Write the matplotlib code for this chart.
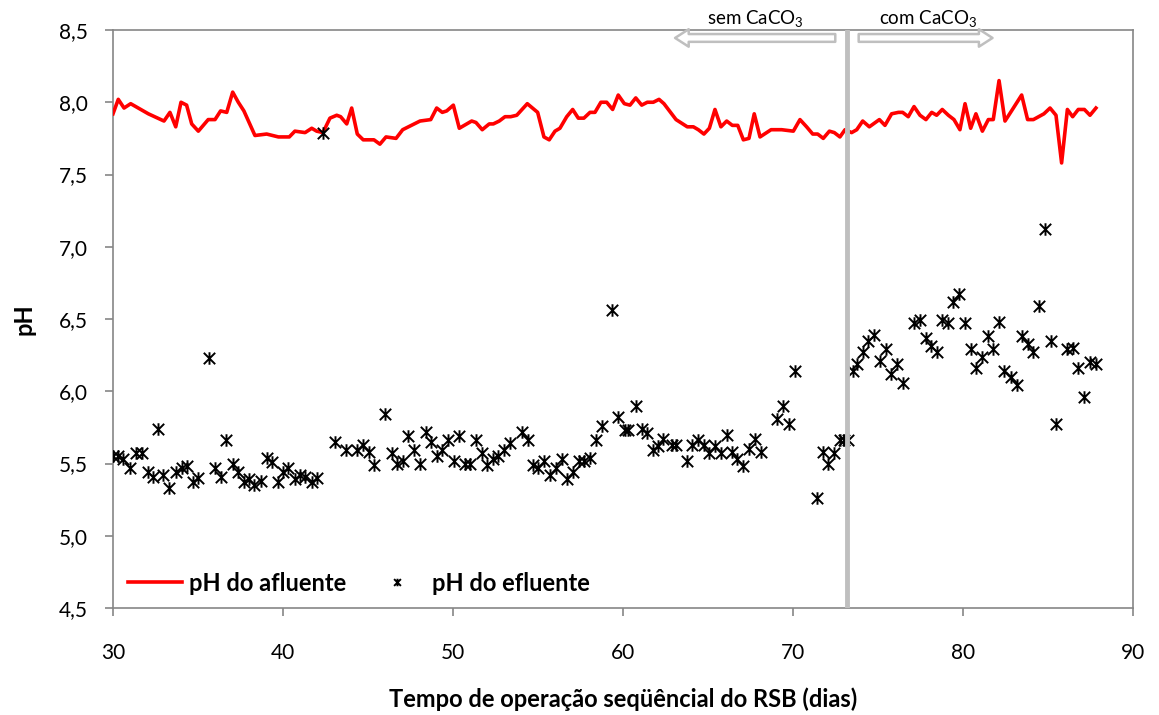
import numpy as np
import matplotlib
matplotlib.use("Agg")
import matplotlib.pyplot as plt
from matplotlib.path import Path
from matplotlib.patches import FancyArrowPatch
from matplotlib.ticker import FuncFormatter

plt.rcParams['font.family'] = ['Lato', 'DejaVu Sans']
plt.rcParams['mathtext.fontset'] = 'custom'
plt.rcParams['mathtext.rm'] = 'Lato'

# pH do afluente (linha)
afluenteDias = [30.0, 30.31, 30.65, 31.04, 32.08, 33.0, 33.35, 33.69, 34.0, 34.33, 34.63, 35.02, 35.6, 36.0,
                36.33, 36.69, 37.04, 37.37, 37.7, 38.35, 39.04, 39.73, 40.37, 40.7, 41.3, 41.69, 41.98, 42.35,
                42.76, 43.16, 43.39, 43.75, 44.04, 44.37, 44.72, 45.35, 45.7, 46.06, 46.65, 47.04, 48.06, 48.69,
                49.04, 49.37, 49.63, 50.02, 50.37, 51.1, 51.35, 51.72, 52.13, 52.37, 52.72, 53.06, 53.39, 53.75,
                54.37, 54.98, 55.35, 55.66, 56.0, 56.29, 56.69, 57.04, 57.37, 57.7, 58.06, 58.35, 58.7, 59.04,
                59.39, 59.72, 60.08, 60.41, 60.75, 61.1, 61.43, 61.78, 62.12, 62.41, 63.12, 63.78, 64.14, 64.43,
                64.76, 65.08, 65.41, 65.76, 66.1, 66.43, 66.75, 67.08, 67.41, 67.72, 68.06, 68.71, 69.33, 70.02,
                70.41, 70.8, 71.16, 71.45, 71.78, 72.14, 72.43, 72.76, 73.06, 73.45, 73.75, 74.1, 74.49, 75.08,
                75.41, 75.8, 76.2, 76.45, 76.78, 77.12, 77.47, 77.82, 78.16, 78.45, 78.78, 79.14, 79.47, 79.82,
                80.12, 80.45, 80.76, 81.14, 81.49, 81.78, 82.12, 82.47, 82.8, 83.45, 83.8, 84.14, 84.76, 85.12,
                85.47, 85.8, 86.14, 86.45, 86.78, 87.14, 87.47, 87.82]
afluentePh = [7.92, 8.02, 7.96, 7.99, 7.92, 7.87, 7.93, 7.83, 8.0, 7.98, 7.85, 7.80, 7.88, 7.88,
              7.94, 7.93, 8.07, 8.0, 7.94, 7.77, 7.78, 7.76, 7.76, 7.80, 7.79, 7.82, 7.80, 7.79,
              7.89, 7.91, 7.90, 7.85, 7.96, 7.78, 7.74, 7.74, 7.71, 7.76, 7.75, 7.81, 7.87, 7.88,
              7.96, 7.93, 7.94, 7.98, 7.82, 7.87, 7.86, 7.81, 7.85, 7.85, 7.87, 7.90, 7.90, 7.91,
              7.99, 7.93, 7.76, 7.74, 7.80, 7.82, 7.90, 7.95, 7.89, 7.89, 7.93, 7.93, 8.0, 8.0,
              7.95, 8.05, 7.99, 7.98, 8.03, 7.98, 8.0, 8.0, 8.02, 7.99, 7.88, 7.83, 7.83, 7.81,
              7.78, 7.82, 7.95, 7.83, 7.87, 7.84, 7.84, 7.74, 7.75, 7.92, 7.76, 7.81, 7.81, 7.80,
              7.88, 7.83, 7.78, 7.78, 7.75, 7.80, 7.79, 7.76, 7.81, 7.79, 7.81, 7.87, 7.83, 7.88,
              7.84, 7.92, 7.93, 7.93, 7.90, 7.97, 7.91, 7.88, 7.93, 7.91, 7.95, 7.91, 7.88, 7.81,
              7.99, 7.82, 7.92, 7.80, 7.88, 7.88, 8.15, 7.87, 7.93, 8.05, 7.88, 7.88, 7.92, 7.96,
              7.91, 7.58, 7.95, 7.90, 7.95, 7.95, 7.91, 7.96]

# pH do efluente (pontos)
efluenteDias = [30.02, 30.31, 30.6, 31.0, 31.35, 31.69, 32.04, 32.33, 32.67, 32.96, 33.31, 33.71, 34.04, 34.33,
                34.69, 35.02, 35.65, 36.0, 36.33, 36.65, 37.04, 37.37, 37.7, 38.0, 38.31, 38.7, 39.04, 39.37,
                39.69, 40.02, 40.31, 40.71, 41.0, 41.29, 41.69, 42.02, 42.35, 43.06, 43.69, 44.33, 44.72, 45.06,
                45.37, 46.0, 46.39, 46.72, 47.04, 47.37, 47.7, 48.06, 48.39, 48.7, 49.04, 49.37, 49.69, 50.06,
                50.37, 50.7, 51.0, 51.35, 51.69, 52.02, 52.33, 52.67, 53.0, 53.35, 54.04, 54.39, 54.69, 55.02,
                55.37, 55.71, 56.04, 56.39, 56.72, 57.04, 57.43, 57.72, 58.06, 58.41, 58.75, 59.35, 59.72, 60.12,
                60.31, 60.75, 61.1, 61.39, 61.75, 62.08, 62.37, 62.86, 63.12, 63.75, 64.08, 64.43, 64.76, 65.08,
                65.41, 65.76, 66.1, 66.4, 66.72, 67.08, 67.43, 67.76, 68.1, 69.08, 69.43, 69.78, 70.12, 71.43,
                71.75, 72.08, 72.43, 72.76, 73.02, 73.25, 73.51, 73.78, 74.1, 74.43, 74.78, 75.12, 75.45, 75.76,
                76.14, 76.45, 77.12, 77.47, 77.8, 78.12, 78.45, 78.78, 79.1, 79.43, 79.78, 80.12, 80.45, 80.76,
                81.14, 81.45, 81.78, 82.12, 82.43, 82.81, 83.16, 83.45, 83.8, 84.14, 84.47, 84.82, 85.16, 85.47,
                86.14, 86.45, 86.78, 87.14, 87.47, 87.8]
efluentePh = [5.55, 5.55, 5.53, 5.47, 5.57, 5.57, 5.44, 5.41, 5.74, 5.42, 5.33, 5.44, 5.47, 5.48,
              5.37, 5.40, 6.23, 5.47, 5.41, 5.66, 5.50, 5.44, 5.37, 5.39, 5.35, 5.38, 5.54, 5.51,
              5.37, 5.44, 5.47, 5.39, 5.42, 5.41, 5.37, 5.40, 7.79, 5.65, 5.59, 5.59, 5.63, 5.58,
              5.49, 5.84, 5.57, 5.50, 5.52, 5.69, 5.59, 5.50, 5.72, 5.65, 5.55, 5.59, 5.66, 5.52,
              5.69, 5.50, 5.50, 5.66, 5.57, 5.49, 5.53, 5.55, 5.59, 5.64, 5.72, 5.66, 5.49, 5.47,
              5.52, 5.42, 5.47, 5.53, 5.39, 5.44, 5.52, 5.52, 5.54, 5.66, 5.76, 6.56, 5.82, 5.73,
              5.73, 5.90, 5.74, 5.71, 5.59, 5.62, 5.67, 5.63, 5.63, 5.52, 5.63, 5.66, 5.63, 5.57,
              5.62, 5.57, 5.70, 5.58, 5.53, 5.48, 5.60, 5.67, 5.58, 5.81, 5.90, 5.77, 6.14, 5.26,
              5.58, 5.50, 5.57, 5.66, 5.66, 5.66, 6.14, 6.19, 6.27, 6.35, 6.39, 6.21, 6.29, 6.12,
              6.19, 6.06, 6.47, 6.49, 6.37, 6.31, 6.27, 6.49, 6.47, 6.62, 6.67, 6.47, 6.29, 6.16,
              6.24, 6.38, 6.29, 6.48, 6.14, 6.10, 6.04, 6.38, 6.33, 6.27, 6.59, 7.12, 6.35, 5.77,
              6.29, 6.30, 6.16, 5.96, 6.20, 6.19]

diaCaCO3 = 73.2

# marcador estrela do Excel: x com barra vertical
starMarker = Path([(-1, -1), (1, 1), (-1, 1), (1, -1), (0, -1.1), (0, 1.1)],
                  [Path.MOVETO, Path.LINETO, Path.MOVETO, Path.LINETO, Path.MOVETO, Path.LINETO])

fig = plt.figure(figsize=(11.59, 7.15), dpi=100)
ax = fig.add_axes([113 / 1159, 1 - 608 / 715, 1020 / 1159, 578 / 715])

ax.plot(afluenteDias, afluentePh, color='#FF0000', lw=2.6, zorder=3, label='pH do afluente')
ax.plot(efluenteDias, efluentePh, ls='none', marker=starMarker, ms=9, mew=1.4, color='black',
        zorder=4, label='pH do efluente')
ax.axvline(diaCaCO3, color='#BFBFBF', lw=3.5, zorder=5)

ax.set_xlim(30, 90)
ax.set_ylim(4.5, 8.5)
ax.set_xticks(np.arange(30, 91, 10))
ax.set_yticks(np.arange(4.5, 8.51, 0.5))
ax.yaxis.set_major_formatter(FuncFormatter(lambda v, p: f"{v:.1f}".replace('.', ',')))

for s in ax.spines.values():
    s.set_color('#868686')
    s.set_linewidth(1.2)
ax.tick_params(axis='both', colors='#868686', labelcolor='black', labelsize=15, length=6, width=1.2)
ax.tick_params(axis='x', pad=19)
ax.tick_params(axis='y', pad=12)

ax.set_xlabel('Tempo de operação seqüêncial do RSB (dias)', fontsize=17, fontweight='bold', labelpad=18)
ax.set_ylabel('pH', fontsize=17, fontweight='bold', labelpad=17)

# setas sem / com CaCO3
arrowY = 8.445
leftArrow = FancyArrowPatch((72.65, arrowY), (62.9, arrowY),
                            arrowstyle='simple,head_width=0.9,head_length=0.7,tail_width=0.4',
                            mutation_scale=14, fc='white', ec='#BFBFBF', lw=1.8, clip_on=False, zorder=6)
rightArrow = FancyArrowPatch((73.7, arrowY), (81.9, arrowY),
                             arrowstyle='simple,head_width=0.9,head_length=0.7,tail_width=0.4',
                             mutation_scale=14, fc='white', ec='#BFBFBF', lw=1.8, clip_on=False, zorder=6)
ax.add_patch(leftArrow)
ax.add_patch(rightArrow)
ax.text(67.76, 8.575, 'sem CaCO$_3$', ha='center', va='center', fontsize=13.5)
ax.text(77.94, 8.575, 'com CaCO$_3$', ha='center', va='center', fontsize=13.5)

leg = ax.legend(loc='center left', ncol=2, frameon=False, bbox_to_anchor=(0.0147, 0.043),
                borderaxespad=0, borderpad=0, handlelength=2.3, handletextpad=0.3,
                columnspacing=1.0, markerscale=0.6, prop={'weight': 'bold', 'size': 17})

fig.savefig('out.png', dpi=100)
